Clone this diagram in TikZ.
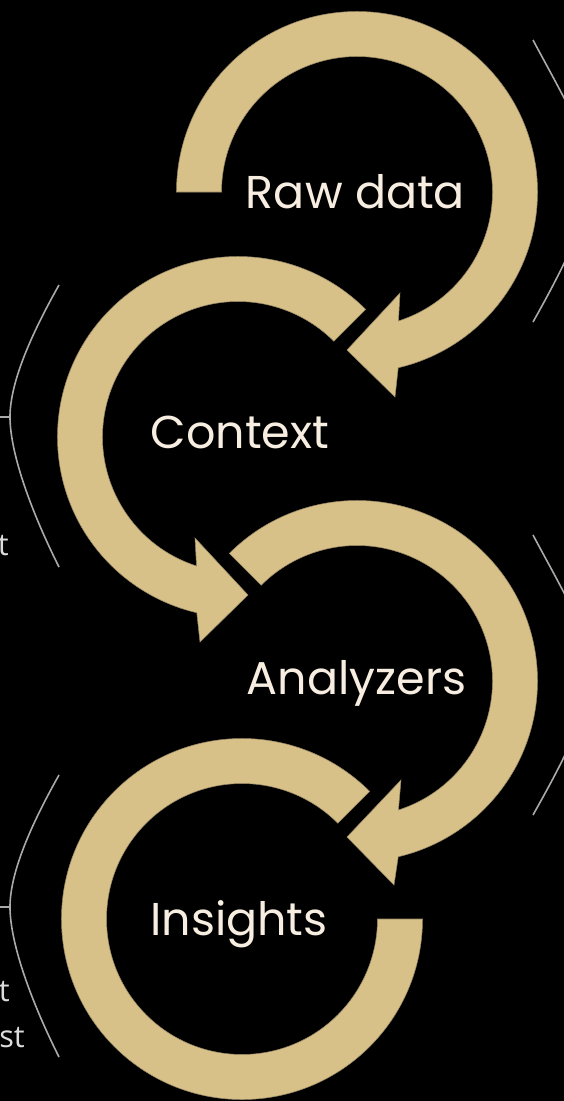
\documentclass[tikz,border=0pt]{standalone}
\usepackage{fontspec}
\newfontfamily\pop{Poppins}
\newfontfamily\osans{Open Sans}
\definecolor{tan}{RGB}{216,192,137}
\definecolor{tanedge}{RGB}{150,135,100}
\definecolor{cream}{RGB}{247,238,225}
\definecolor{bracketgray}{RGB}{170,170,170}
\definecolor{sidetext}{RGB}{220,220,220}
\tikzset{
  ring/.style={fill=tan, draw=tanedge, line width=0.4pt},
  label/.style={text=cream, font=\pop\fontsize{34.5}{40}\selectfont, inner sep=0pt, anchor=base},
  bracket/.style={draw=bracketgray, line width=1.2pt},
  side/.style={text=sidetext, font=\osans\fontsize{23}{28}\selectfont, inner sep=0pt, anchor=base east}
}
\begin{document}
\begin{tikzpicture}[x=0.75pt,y=-0.75pt]
\useasboundingbox (0,0) rectangle (564,1101);
\fill[black] (0,0) rectangle (564,1101);
\clip (0,0) rectangle (564,1101);

% Ring 1: Raw data
\begin{scope}[shift={(357,192)}]
\fill[ring] (180:180.5) arc[start angle=180, end angle=436.8, radius=180.5]
  -- (38,205) -- (-10,158) -- (43,101) -- (432.2:135.5)
  arc[start angle=432.2, end angle=180, radius=135.5] -- cycle;
\node[label] (raw) at (-1.5,16) {Raw data};
\end{scope}

% Ring 2: Context
\begin{scope}[shift={(238,437)}]
\fill[ring] (-45:180.5) arc[start angle=-45, end angle=-256.8, radius=180.5]
  -- (-38,205) -- (10,158) -- (-43,101) -- (-252.2:135.5)
  arc[start angle=-252.2, end angle=-45, radius=135.5] -- cycle;
\node[label] (ctx) at (2,11) {Context};
\end{scope}

% Ring 3: Analyzers
\begin{scope}[shift={(357,681)}]
\fill[ring] (225:180.5) arc[start angle=225, end angle=436.8, radius=180.5]
  -- (37,204) -- (-10,156) -- (44,99) -- (432.2:135.5)
  arc[start angle=432.2, end angle=225, radius=135.5] -- cycle;
\node[label] (ana) at (-0.5,13) {Analyzers};
\end{scope}

% Ring 4: Insights
\begin{scope}[shift={(242,919)}]
\fill[ring] (0:180.5) arc[start angle=0, end angle=315, radius=180.5]
  -- (315:135.5) arc[start angle=315, end angle=0, radius=135.5] -- cycle;
\node[label] (ins) at (-3,16) {Insights};
\end{scope}

% Left brackets
\coordinate (lb1t) at (59,285);
\coordinate (lb1a) at (10,417);
\coordinate (lb1b) at (59,567);
\coordinate (lb1e) at (0,417);
\draw[bracket] (lb1t) .. controls (28,340) and (10,385) .. (lb1a)
  .. controls (10,450) and (28,505) .. (lb1b);
\draw[bracket] (lb1e) -- (lb1a);

\coordinate (lb2t) at (59,775);
\coordinate (lb2a) at (10,907);
\coordinate (lb2b) at (59,1057);
\coordinate (lb2e) at (0,907);
\draw[bracket] (lb2t) .. controls (28,830) and (10,875) .. (lb2a)
  .. controls (10,940) and (28,995) .. (lb2b);
\draw[bracket] (lb2e) -- (lb2a);

% Right brackets (apex outside the picture)
\coordinate (rb1t) at (533,40);
\coordinate (rb1a) at (590,178);
\coordinate (rb1b) at (533,322);
\draw[bracket] (rb1t) .. controls (565,100) and (590,140) .. (rb1a)
  .. controls (590,215) and (565,265) .. (rb1b);

\coordinate (rb2t) at (533,535);
\coordinate (rb2a) at (590,672);
\coordinate (rb2b) at (533,815);
\draw[bracket] (rb2t) .. controls (565,595) and (590,635) .. (rb2a)
  .. controls (590,710) and (565,758) .. (rb2b);

% Side text fragments
\node[side] (s1) at (9,555) {t};
\node[side] (s2) at (10,1001) {t};
\node[side] (s3) at (25,1047) {st};
\end{tikzpicture}
\end{document}
